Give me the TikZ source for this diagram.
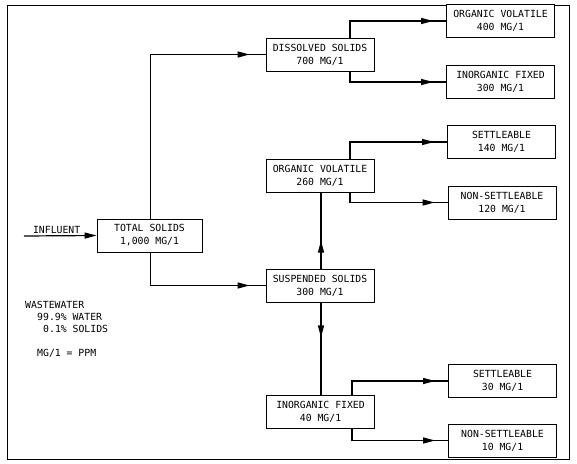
\documentclass[tikz,border=0pt]{standalone}
\usepackage{fontspec}
\setmonofont{DejaVu Sans Mono}
\usepackage{tikz}
\usetikzlibrary{arrows.meta,decorations.markings}
\tikzset{
  solidbox/.style={rectangle,draw=black,line width=0.8pt,fill=white,minimum width=108pt,minimum height=33pt,inner sep=1pt,align=center,font=\ttfamily\fontsize{9.8}{13}\selectfont},
  notetext/.style={anchor=west,inner sep=0pt,font=\ttfamily\fontsize{9.8}{13}\selectfont},
  line/.style={line width=1.2pt,draw=black},
  arrow/.style={line,-{Triangle[length=12pt,width=6pt]}},
  midarrow/.style={line,postaction={decorate},decoration={markings,mark=at position #1 with {\arrow{Triangle[length=12pt,width=6pt]}}}}
}
\begin{document}
\begin{tikzpicture}[x=1pt,y=-1pt]
  \useasboundingbox (0,0) rectangle (577,463);
  \draw[line width=0.9pt] (7,5) rectangle (569,459);
  % first stage
  \node[solidbox, minimum width=105pt] (ts) at (149.5,235.5) {TOTAL SOLIDS\\1,000 MG/1};
  \node[solidbox] (ds) at (320,54.5) {DISSOLVED SOLIDS\\700 MG/1};
  \node[solidbox] (ss) at (320,285.5) {SUSPENDED SOLIDS\\300 MG/1};
  % dissolved
  \node[solidbox] (ov4) at (500.5,21) {ORGANIC VOLATILE\\400 MG/1};
  \node[solidbox] (if3) at (500.5,82) {INORGANIC FIXED\\300 MG/1};
  % suspended
  \node[solidbox] (ov2) at (320,175.5) {ORGANIC VOLATILE\\260 MG/1};
  \node[solidbox] (if40) at (320.5,412) {INORGANIC FIXED\\40 MG/1};
  \node[solidbox] (st14) at (501.5,142) {SETTLEABLE\\140 MG/1};
  \node[solidbox] (ns12) at (502,202.5) {NON-SETTLEABLE\\120 MG/1};
  \node[solidbox] (st30) at (502.5,381) {SETTLEABLE\\30 MG/1};
  \node[solidbox] (ns10) at (502.5,440.5) {NON-SETTLEABLE\\10 MG/1};
  % notes
  \node[notetext] (ww) at (25,305) {WASTEWATER};
  \node[notetext] (wa) at (37,317) {99.9\% WATER};
  \node[notetext] (so) at (43,329) {0.1\% SOLIDS};
  \node[notetext] (ppm) at (37,353) {MG/1 = PPM};
  \coordinate (in) at (24,236);
  % connectors
  \draw[arrow] (in) -- node[above,pos=0.45,inner sep=2pt,font=\ttfamily\fontsize{9.8}{13}\selectfont]{INFLUENT} (ts.west);
  \draw[midarrow=-16pt] ([xshift=1pt]ts.north) |- (ds.west);
  \draw[midarrow=-16pt] ([xshift=1pt]ts.south) |- (ss.west);
  \draw[midarrow=-13pt] ([xshift=30pt]ds.north) |- (ov4.west);
  \draw[midarrow=-13pt] ([xshift=30pt]ds.south) |- (if3.west);
  \draw[midarrow=28pt] ([xshift=1pt]ss.north) -- ([xshift=1pt]ov2.south);
  \draw[midarrow=35pt] ([xshift=1pt]ss.south) -- ([xshift=0.5pt]if40.north);
  \draw[midarrow=-13pt] ([xshift=30pt]ov2.north) |- (st14.west);
  \draw[midarrow=-13pt] ([xshift=30pt]ov2.south) |- (ns12.west);
  \draw[midarrow=-13pt] ([xshift=31.5pt]if40.north) |- (st30.west);
  \draw[midarrow=-13pt] ([xshift=31.5pt]if40.south) |- (ns10.west);
\end{tikzpicture}
\end{document}
